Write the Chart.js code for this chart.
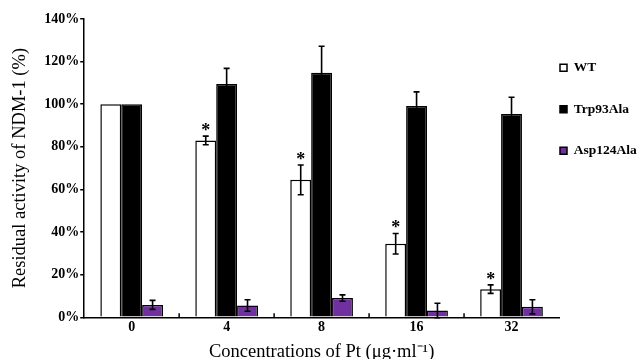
<!DOCTYPE html>
<html>
<head>
<meta charset="utf-8">
<script src="https://cdn.jsdelivr.net/npm/chart.js@4"></script>
<style>
  body { margin: 0; background: #fff; }
  #wrap { width: 640px; height: 359px; }
</style>
</head>
<body>
<div id="wrap"><canvas id="chart"></canvas></div>
<script>
const concentrations = ['0', '4', '8', '16', '32'];
const wtValues = [100, 83, 64.5, 34.5, 13.2];
const wtErrors = [0, 2, 7, 4.8, 2];
const trpValues = [100, 109.5, 114.8, 99.2, 95.4];
const trpErrors = [0, 7.3, 12.4, 6.6, 7.9];
const aspValues = [5.8, 5.5, 9, 3.2, 4.9];
const aspErrors = [2.1, 2.7, 1.5, 3.4, 3.3];
const wtMarks = ['', '*', '*', '*', '*'];

const serif = '"Liberation Serif", "Times New Roman", serif';

// error bars + significance marks, drawn from the y scale
const errorBars = {
  id: 'errorBars',
  afterDatasetsDraw(chart) {
    const ctx = chart.ctx;
    const y = chart.scales.y;
    ctx.save();
    ctx.strokeStyle = '#000';
    ctx.lineWidth = 1.6;
    chart.data.datasets.forEach((ds, i) => {
      const meta = chart.getDatasetMeta(i);
      meta.data.forEach((bar, j) => {
        const e = ds.errors[j];
        if (!e) return;
        const top = y.getPixelForValue(ds.data[j] + e);
        const bot = y.getPixelForValue(ds.data[j] - e);
        ctx.beginPath();
        ctx.moveTo(bar.x, top); ctx.lineTo(bar.x, bot);
        ctx.moveTo(bar.x - 3, top); ctx.lineTo(bar.x + 3, top);
        ctx.moveTo(bar.x - 3, bot); ctx.lineTo(bar.x + 3, bot);
        ctx.stroke();
      });
      if (ds.marks) {
        ctx.fillStyle = '#000';
        ctx.font = 'bold 18px ' + serif;
        ctx.textAlign = 'center';
        ctx.textBaseline = 'middle';
        meta.data.forEach((bar, j) => {
          if (!ds.marks[j]) return;
          const top = y.getPixelForValue(ds.data[j] + ds.errors[j]);
          ctx.fillText(ds.marks[j], bar.x, top - 5);
        });
      }
    });
    ctx.restore();
  }
};

// small inward ticks between the groups
const groupTicks = {
  id: 'groupTicks',
  afterDraw(chart) {
    const ctx = chart.ctx;
    const x = chart.scales.x;
    const base = chart.scales.y.getPixelForValue(0);
    ctx.save();
    ctx.strokeStyle = '#000';
    ctx.lineWidth = 1.5;
    for (let i = 1; i < concentrations.length; i++) {
      const px = x.getPixelForValue(i - 0.5);
      ctx.beginPath();
      ctx.moveTo(px, base);
      ctx.lineTo(px, base - 4);
      ctx.stroke();
    }
    ctx.restore();
  }
};

// legend padding is big for the row gap, pull the block back next to the axis end
const legendShift = {
  id: 'legendShift',
  afterLayout(chart) {
    const lg = chart.legend;
    lg.left = chart.chartArea.right + 1 - lg.options.labels.padding;
    lg.top += 14;
  }
};

new Chart(document.getElementById('chart'), {
  type: 'bar',
  data: {
    labels: concentrations,
    datasets: [{
      label: 'WT',
      data: wtValues,
      errors: wtErrors,
      marks: wtMarks,
      backgroundColor: '#fff',
      borderColor: '#000',
      borderWidth: 1.5
    }, {
      label: 'Trp93Ala',
      data: trpValues,
      errors: trpErrors,
      backgroundColor: '#000',
      borderColor: '#000',
      borderWidth: 1.5
    }, {
      label: 'Asp124Ala',
      data: aspValues,
      errors: aspErrors,
      backgroundColor: '#7030a0',
      borderColor: '#000',
      borderWidth: 1.5
    }]
  },
  options: {
    responsive: true,
    maintainAspectRatio: false,
    animation: false,
    layout: { padding: { top: 19, left: 9, right: 0, bottom: 0 } },
    datasets: { bar: { categoryPercentage: 0.66, barPercentage: 1 } },
    plugins: {
      tooltip: { enabled: false },
      legend: {
        position: 'right',
        align: 'start',
        maxWidth: 81,
        labels: {
          boxWidth: 7,
          boxHeight: 7,
          padding: 28,
          color: '#000',
          font: { family: serif, size: 13.5, weight: 'bold' }
        }
      }
    },
    scales: {
      x: {
        border: { display: true, color: '#000', width: 1.5 },
        grid: { display: false, drawTicks: false },
        ticks: { color: '#000', padding: 3, font: { family: serif, size: 14, weight: 'bold', lineHeight: 1 } },
        title: {
          display: true,
          text: 'Concentrations of Pt (μg·ml⁻¹)',
          color: '#000',
          padding: { top: 8.8, bottom: 0 },
          font: { family: serif, size: 18.5, lineHeight: 0.7 }
        }
      },
      y: {
        min: 0,
        max: 140,
        border: { display: true, color: '#000', width: 1.5 },
        grid: { drawOnChartArea: false, drawTicks: true, tickLength: 4, color: '#000', lineWidth: 1.5 },
        ticks: {
          stepSize: 20,
          color: '#000',
          padding: 1,
          font: { family: serif, size: 14, weight: 'bold' },
          callback: v => v + '%'
        },
        title: {
          display: true,
          text: 'Residual activity of NDM-1 (%)',
          color: '#000',
          padding: { top: 0, bottom: 12 },
          font: { family: serif, size: 18.5, lineHeight: 1.2 }
        }
      }
    }
  },
  plugins: [errorBars, groupTicks, legendShift]
});
</script>
</body>
</html>
